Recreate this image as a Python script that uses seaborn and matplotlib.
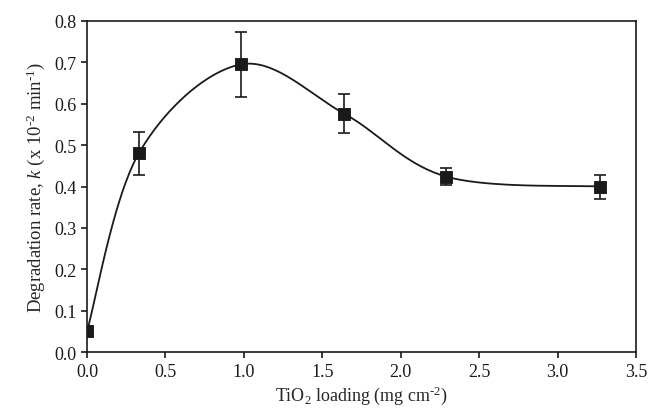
import numpy as np
import pandas as pd
import seaborn as sns
import matplotlib.pyplot as plt

# TiO2 loading (mg cm-2) vs degradation rate k (x 10^-2 min^-1)
loading = [0.0, 0.33, 0.98, 1.64, 2.29, 3.27]
rate = [0.05, 0.48, 0.695, 0.576, 0.424, 0.400]
rate_err = [0.012, 0.051, 0.078, 0.047, 0.021, 0.029]


def smooth_curve(x, y, n=40):
    # Catmull-Rom style smoothing (like a spreadsheet "smoothed line")
    pts = np.column_stack([x, y])
    pts = np.vstack([pts[0], pts, pts[-1]])
    out = []
    for i in range(1, len(pts) - 2):
        p0, p1, p2, p3 = pts[i - 1], pts[i], pts[i + 1], pts[i + 2]
        c1 = p1 + (p2 - p0) / 6
        c2 = p2 - (p3 - p1) / 6
        t = np.linspace(0, 1, n)[:, None]
        seg = ((1 - t) ** 3) * p1 + 3 * ((1 - t) ** 2) * t * c1 \
            + 3 * (1 - t) * t ** 2 * c2 + t ** 3 * p2
        out.append(seg if i == 1 else seg[1:])
    out = np.vstack(out)
    return out[:, 0], out[:, 1]


sns.set_style('ticks')
plt.rcParams['font.family'] = ['Liberation Serif', 'DejaVu Serif']
plt.rcParams['mathtext.fontset'] = 'custom'
plt.rcParams['mathtext.rm'] = 'Liberation Serif'
plt.rcParams['mathtext.it'] = 'Liberation Serif:italic'

df = pd.DataFrame({'loading': loading, 'rate': rate, 'err': rate_err})
cx, cy = smooth_curve(loading, rate)
curve = pd.DataFrame({'x': cx, 'y': cy})

fig = plt.figure(figsize=(6.49, 4.14), dpi=100)
ax = fig.add_axes([0.134, 0.147, 0.846, 0.8])

sns.lineplot(data=curve, x='x', y='y', sort=False, color='#1a1a1a', lw=1.3, ax=ax)
ax.errorbar(df['loading'], df['rate'], yerr=df['err'], fmt='none',
            ecolor='#1a1a1a', elinewidth=1.2, capsize=4, capthick=1.2)
sns.scatterplot(data=df, x='loading', y='rate', marker='s', s=65,
                color='#1a1a1a', edgecolor='#1a1a1a', ax=ax, zorder=5)

ax.set_xlim(0, 3.5)
ax.set_ylim(0, 0.8)
ax.set_xticks(np.arange(0, 3.51, 0.5))
ax.set_yticks(np.arange(0, 0.81, 0.1))
ax.set_xticklabels([f'{v:.1f}' for v in np.arange(0, 3.51, 0.5)])
ax.set_yticklabels([f'{v:.1f}' for v in np.arange(0, 0.81, 0.1)])
ax.tick_params(direction='out', length=4, width=1.2, labelsize=13, colors='#1a1a1a')
for sp in ax.spines.values():
    sp.set_linewidth(1.2)
    sp.set_color('#1a1a1a')

ax.set_xlabel(r'TiO$_2$ loading (mg cm$^{\text{-2}}$)', fontsize=13, labelpad=3)
ax.set_ylabel(r'Degradation rate, $k$ (x 10$^{\text{-2}}$ min$^{\text{-1}}$)',
              fontsize=13.5, labelpad=5)

plt.savefig('out.png', dpi=100)
